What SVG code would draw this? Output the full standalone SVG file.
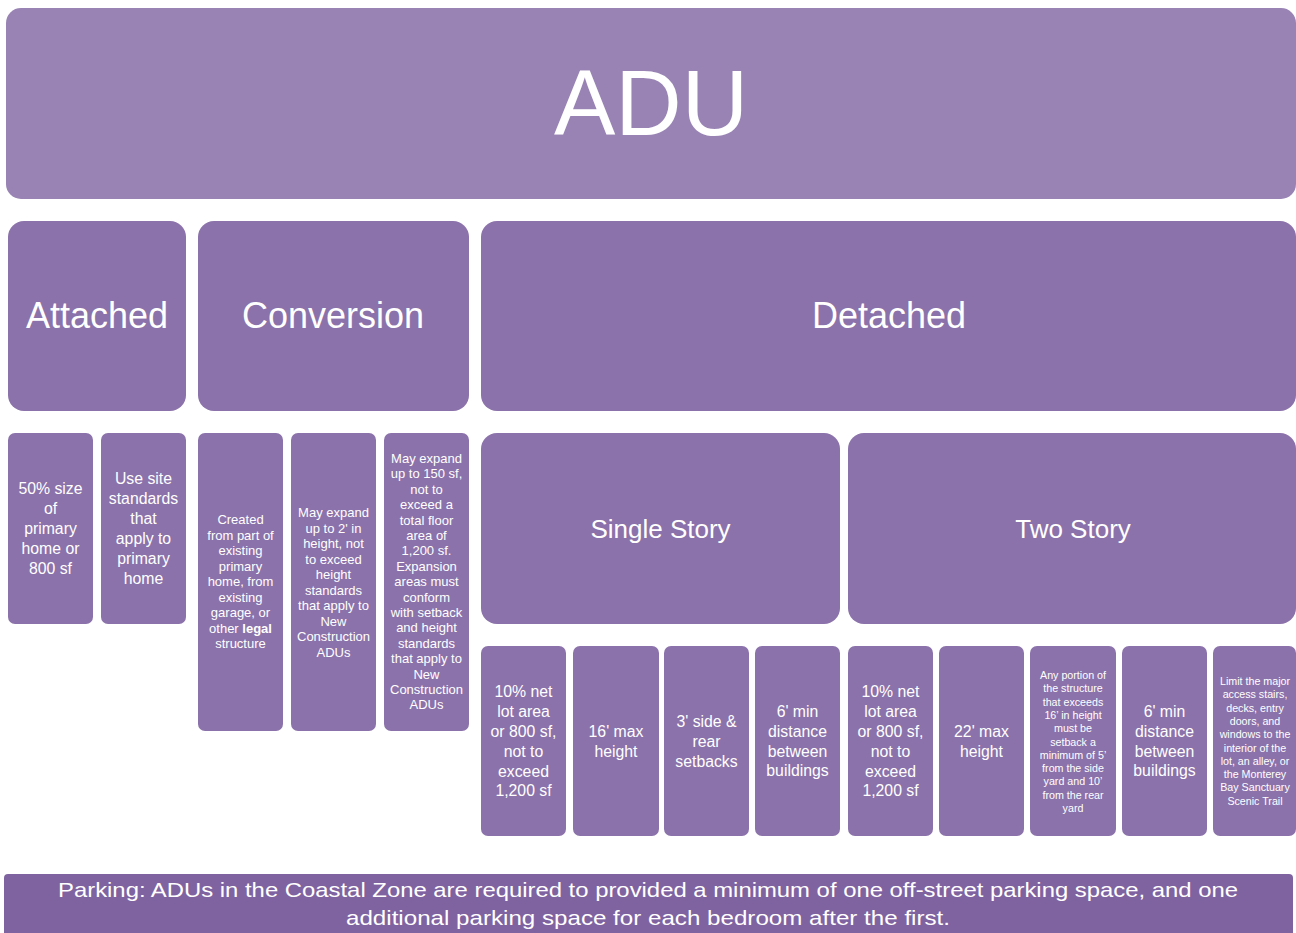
<svg xmlns="http://www.w3.org/2000/svg" width="1296" height="933" viewBox="0 0 1296 933">
<defs>
<style>
.top{fill:#9883B4}
.box{fill:#8B72AA}
.bar{fill:#7F63A1}
text{font-family:"Liberation Sans",Arial,sans-serif;fill:#FFFFFF;text-anchor:middle}
.h1{font-size:92px}
.h2{font-size:36px}
.h3{font-size:26px}
.t15{font-size:15.8px}
.t13{font-size:13px}
.t10{font-size:10.7px}
.park{font-size:21px}
</style>
</defs>
<rect width="1296" height="933" fill="#FFFFFF"/>
<g id="connectors"></g>

<g id="adu">
<rect class="top" x="6" y="8" width="1290" height="191" rx="15"/>
<text class="h1" x="651" y="135">ADU</text>
</g>

<g id="attached">
<rect class="box" x="8" y="221" width="178" height="190" rx="16"/>
<text class="h2" x="97" y="328">Attached</text>
</g>
<g id="conversion">
<rect class="box" x="198" y="221" width="271" height="190" rx="16"/>
<text class="h2" x="333" y="328">Conversion</text>
</g>
<g id="detached">
<rect class="box" x="481" y="221" width="815" height="190" rx="16"/>
<text class="h2" x="889" y="328">Detached</text>
</g>

<g id="att1">
<rect class="box" x="8" y="433" width="85" height="191" rx="7"/>
<text class="t15" x="50.5" y="494"><tspan x="50.5">50% size</tspan><tspan x="50.5" dy="20">of</tspan><tspan x="50.5" dy="20">primary</tspan><tspan x="50.5" dy="20">home or</tspan><tspan x="50.5" dy="20">800 sf</tspan></text>
</g>
<g id="att2">
<rect class="box" x="101" y="433" width="85" height="191" rx="7"/>
<text class="t15" x="143.5" y="484"><tspan x="143.5">Use site</tspan><tspan x="143.5" dy="20">standards</tspan><tspan x="143.5" dy="20">that</tspan><tspan x="143.5" dy="20">apply to</tspan><tspan x="143.5" dy="20">primary</tspan><tspan x="143.5" dy="20">home</tspan></text>
</g>

<g id="conv1">
<rect class="box" x="198" y="433" width="85" height="298" rx="7"/>
<text class="t13" x="240.5" y="524"><tspan x="240.5">Created</tspan><tspan x="240.5" dy="15.5">from part of</tspan><tspan x="240.5" dy="15.5">existing</tspan><tspan x="240.5" dy="15.5">primary</tspan><tspan x="240.5" dy="15.5">home, from</tspan><tspan x="240.5" dy="15.5">existing</tspan><tspan x="240.5" dy="15.5">garage, or</tspan><tspan x="240.5" dy="15.5">other <tspan font-weight="bold">legal</tspan></tspan><tspan x="240.5" dy="15.5">structure</tspan></text>
</g>
<g id="conv2">
<rect class="box" x="291" y="433" width="85" height="298" rx="7"/>
<text class="t13" x="333.5" y="517"><tspan x="333.5">May expand</tspan><tspan x="333.5" dy="15.5">up to 2' in</tspan><tspan x="333.5" dy="15.5">height, not</tspan><tspan x="333.5" dy="15.5">to exceed</tspan><tspan x="333.5" dy="15.5">height</tspan><tspan x="333.5" dy="15.5">standards</tspan><tspan x="333.5" dy="15.5">that apply to</tspan><tspan x="333.5" dy="15.5">New</tspan><tspan x="333.5" dy="15.5">Construction</tspan><tspan x="333.5" dy="15.5">ADUs</tspan></text>
</g>
<g id="conv3">
<rect class="box" x="384" y="433" width="85" height="298" rx="7"/>
<text class="t13" x="426.5" y="463"><tspan x="426.5">May expand</tspan><tspan x="426.5" dy="15.4">up to 150 sf,</tspan><tspan x="426.5" dy="15.4">not to</tspan><tspan x="426.5" dy="15.4">exceed a</tspan><tspan x="426.5" dy="15.4">total floor</tspan><tspan x="426.5" dy="15.4">area of</tspan><tspan x="426.5" dy="15.4">1,200 sf.</tspan><tspan x="426.5" dy="15.4">Expansion</tspan><tspan x="426.5" dy="15.4">areas must</tspan><tspan x="426.5" dy="15.4">conform</tspan><tspan x="426.5" dy="15.4">with setback</tspan><tspan x="426.5" dy="15.4">and height</tspan><tspan x="426.5" dy="15.4">standards</tspan><tspan x="426.5" dy="15.4">that apply to</tspan><tspan x="426.5" dy="15.4">New</tspan><tspan x="426.5" dy="15.4">Construction</tspan><tspan x="426.5" dy="15.4">ADUs</tspan></text>
</g>

<g id="single-story">
<rect class="box" x="481" y="433" width="359" height="191" rx="16"/>
<text class="h3" x="660.5" y="538">Single Story</text>
</g>
<g id="two-story">
<rect class="box" x="848" y="433" width="448" height="191" rx="16"/>
<text class="h3" x="1073" y="538">Two Story</text>
</g>

<g id="ss1">
<rect class="box" x="481" y="646" width="85" height="190" rx="7"/>
<text class="t15" x="523.5" y="697"><tspan x="523.5">10% net</tspan><tspan x="523.5" dy="20">lot area</tspan><tspan x="523.5" dy="20">or 800 sf,</tspan><tspan x="523.5" dy="20">not to</tspan><tspan x="523.5" dy="20">exceed</tspan><tspan x="523.5" dy="19">1,200 sf</tspan></text>
</g>
<g id="ss2">
<rect class="box" x="573" y="646" width="86" height="190" rx="7"/>
<text class="t15" x="616" y="737"><tspan x="616">16' max</tspan><tspan x="616" dy="20">height</tspan></text>
</g>
<g id="ss3">
<rect class="box" x="664" y="646" width="85" height="190" rx="7"/>
<text class="t15" x="706.5" y="727"><tspan x="706.5">3' side &amp;</tspan><tspan x="706.5" dy="20">rear</tspan><tspan x="706.5" dy="20">setbacks</tspan></text>
</g>
<g id="ss4">
<rect class="box" x="755" y="646" width="85" height="190" rx="7"/>
<text class="t15" x="797.5" y="717"><tspan x="797.5">6' min</tspan><tspan x="797.5" dy="20">distance</tspan><tspan x="797.5" dy="20">between</tspan><tspan x="797.5" dy="19">buildings</tspan></text>
</g>

<g id="ts1">
<rect class="box" x="848" y="646" width="85" height="190" rx="7"/>
<text class="t15" x="890.5" y="697"><tspan x="890.5">10% net</tspan><tspan x="890.5" dy="20">lot area</tspan><tspan x="890.5" dy="20">or 800 sf,</tspan><tspan x="890.5" dy="20">not to</tspan><tspan x="890.5" dy="20">exceed</tspan><tspan x="890.5" dy="19">1,200 sf</tspan></text>
</g>
<g id="ts2">
<rect class="box" x="939" y="646" width="85" height="190" rx="7"/>
<text class="t15" x="981.5" y="737"><tspan x="981.5">22' max</tspan><tspan x="981.5" dy="20">height</tspan></text>
</g>
<g id="ts3">
<rect class="box" x="1030" y="646" width="86" height="190" rx="7"/>
<text class="t10" x="1073" y="679"><tspan x="1073">Any portion of</tspan><tspan x="1073" dy="13.3">the structure</tspan><tspan x="1073" dy="13.3">that exceeds</tspan><tspan x="1073" dy="13.3">16’ in height</tspan><tspan x="1073" dy="13.3">must be</tspan><tspan x="1073" dy="13.3">setback a</tspan><tspan x="1073" dy="13.3">minimum of 5’</tspan><tspan x="1073" dy="13.3">from the side</tspan><tspan x="1073" dy="13.3">yard and 10’</tspan><tspan x="1073" dy="13.3">from the rear</tspan><tspan x="1073" dy="13.3">yard</tspan></text>
</g>
<g id="ts4">
<rect class="box" x="1122" y="646" width="85" height="190" rx="7"/>
<text class="t15" x="1164.5" y="717"><tspan x="1164.5">6' min</tspan><tspan x="1164.5" dy="20">distance</tspan><tspan x="1164.5" dy="20">between</tspan><tspan x="1164.5" dy="19">buildings</tspan></text>
</g>
<g id="ts5">
<rect class="box" x="1213" y="646" width="83" height="190" rx="7"/>
<text class="t10" x="1255" y="685"><tspan x="1255">Limit the major</tspan><tspan x="1255" dy="13.3">access stairs,</tspan><tspan x="1255" dy="13.3">decks, entry</tspan><tspan x="1255" dy="13.3">doors, and</tspan><tspan x="1255" dy="13.3">windows to the</tspan><tspan x="1255" dy="13.3">interior of the</tspan><tspan x="1255" dy="13.3">lot, an alley, or</tspan><tspan x="1255" dy="13.3">the Monterey</tspan><tspan x="1255" dy="13.3">Bay Sanctuary</tspan><tspan x="1255" dy="13.3">Scenic Trail</tspan></text>
</g>

<g id="parking">
<rect class="bar" x="4" y="874" width="1289" height="70" rx="4"/>
<text class="park" x="648" y="897" textLength="1180" lengthAdjust="spacingAndGlyphs">Parking: ADUs in the Coastal Zone are required to provided a minimum of one off-street parking space, and one</text>
<text class="park" x="648" y="925" textLength="604" lengthAdjust="spacingAndGlyphs">additional parking space for each bedroom after the first.</text>
</g>
</svg>
